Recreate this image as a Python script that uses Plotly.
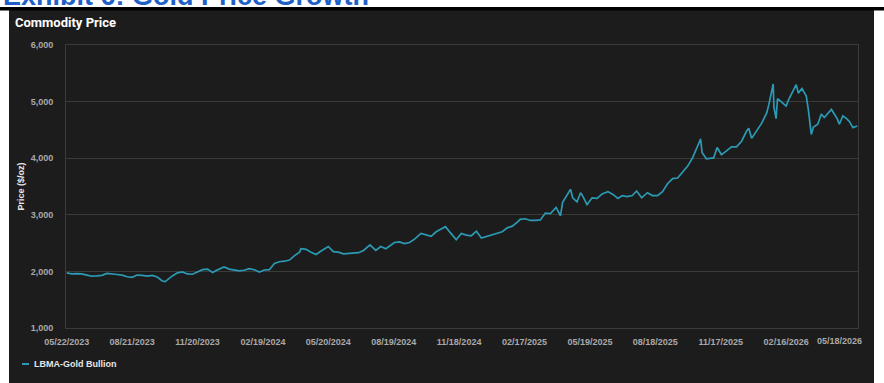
import plotly.graph_objects as go

# ---------------- data ----------------
SERIES_NAME = "LBMA-Gold Bullion"
CHART_TITLE = "Commodity Price"
EXHIBIT_TITLE = "Exhibit 6: Gold Price Growth"
Y_TITLE = "Price ($/oz)"

dates = [
    "2023-05-22", "2023-05-29", "2023-06-05", "2023-06-12", "2023-06-19", "2023-06-26",
    "2023-07-03", "2023-07-10", "2023-07-17", "2023-07-24", "2023-07-31", "2023-08-07",
    "2023-08-14", "2023-08-21", "2023-08-28", "2023-09-04", "2023-09-11", "2023-09-18",
    "2023-09-25", "2023-10-02", "2023-10-06", "2023-10-16", "2023-10-23", "2023-10-30",
    "2023-11-06", "2023-11-13", "2023-11-20", "2023-11-27", "2023-12-04", "2023-12-11",
    "2023-12-18", "2023-12-27", "2024-01-03", "2024-01-10", "2024-01-17", "2024-01-24",
    "2024-01-31", "2024-02-07", "2024-02-14", "2024-02-21", "2024-02-28", "2024-03-06",
    "2024-03-13", "2024-03-20", "2024-03-27", "2024-04-03", "2024-04-10", "2024-04-12",
    "2024-04-19", "2024-04-26", "2024-05-03", "2024-05-10", "2024-05-20", "2024-05-27",
    "2024-06-03", "2024-06-10", "2024-06-17", "2024-06-24", "2024-07-01", "2024-07-08",
    "2024-07-17", "2024-07-25", "2024-08-01", "2024-08-08", "2024-08-15", "2024-08-20",
    "2024-08-27", "2024-09-03", "2024-09-10", "2024-09-17", "2024-09-26", "2024-10-03",
    "2024-10-10", "2024-10-17", "2024-10-23", "2024-10-30", "2024-11-06", "2024-11-14",
    "2024-11-21", "2024-11-28", "2024-12-05", "2024-12-12", "2024-12-19", "2024-12-27",
    "2025-01-03", "2025-01-10", "2025-01-17", "2025-01-24", "2025-01-31", "2025-02-07",
    "2025-02-11", "2025-02-18", "2025-02-25", "2025-03-04", "2025-03-11", "2025-03-18",
    "2025-03-25", "2025-04-02", "2025-04-08", "2025-04-11", "2025-04-17", "2025-04-22",
    "2025-04-25", "2025-05-01", "2025-05-06", "2025-05-09", "2025-05-15", "2025-05-22",
    "2025-05-29", "2025-06-05", "2025-06-13", "2025-06-20", "2025-06-27", "2025-07-03",
    "2025-07-10", "2025-07-17", "2025-07-23", "2025-07-30", "2025-08-07", "2025-08-14",
    "2025-08-21", "2025-08-28", "2025-09-04", "2025-09-11", "2025-09-18", "2025-09-25",
    "2025-10-02", "2025-10-09", "2025-10-14", "2025-10-20", "2025-10-22", "2025-10-28",
    "2025-11-04", "2025-11-07", "2025-11-12", "2025-11-18", "2025-11-25", "2025-12-02",
    "2025-12-09", "2025-12-16", "2025-12-23", "2025-12-26", "2025-12-30", "2026-01-06",
    "2026-01-13", "2026-01-20", "2026-01-23", "2026-01-29", "2026-01-30", "2026-02-02",
    "2026-02-04", "2026-02-09", "2026-02-16", "2026-02-20", "2026-02-26", "2026-03-02",
    "2026-03-05", "2026-03-10", "2026-03-16", "2026-03-19", "2026-03-23", "2026-03-26",
    "2026-04-01", "2026-04-06", "2026-04-10", "2026-04-15", "2026-04-20", "2026-04-24",
    "2026-04-28", "2026-05-01", "2026-05-06", "2026-05-11", "2026-05-15", "2026-05-20",
    "2026-05-26",
]

prices = [
    1975, 1955, 1960, 1955, 1935, 1915,
    1920, 1930, 1965, 1960, 1945, 1935,
    1905, 1895, 1935, 1930, 1915, 1930,
    1900, 1830, 1820, 1920, 1975, 1990,
    1955, 1950, 1990, 2030, 2040, 1980,
    2030, 2080, 2040, 2030, 2010, 2020,
    2050, 2030, 1990, 2025, 2030, 2140,
    2170, 2180, 2200, 2280, 2340, 2400,
    2390, 2340, 2300, 2360, 2440, 2350,
    2340, 2310, 2320, 2330, 2330, 2370,
    2470, 2370, 2440, 2400, 2460, 2510,
    2520, 2490, 2510, 2570, 2670, 2650,
    2620, 2700, 2740, 2790, 2680, 2560,
    2670, 2640, 2630, 2710, 2590, 2620,
    2650, 2680, 2700, 2770, 2800, 2870,
    2920, 2930, 2900, 2900, 2910, 3030,
    3020, 3130, 2980, 3220, 3340, 3450,
    3300, 3230, 3390, 3330, 3180, 3300,
    3290, 3370, 3410, 3360, 3290, 3340,
    3320, 3340, 3420, 3300, 3390, 3340,
    3340, 3410, 3550, 3640, 3650, 3750,
    3860, 4010, 4150, 4340, 4100, 3990,
    4000, 4000, 4190, 4060, 4130, 4200,
    4200, 4300, 4480, 4530, 4350, 4480,
    4620, 4800, 4950, 5310, 4900, 4700,
    5050, 5000, 4920, 5050, 5200, 5300,
    5150, 5230, 5100, 4850, 4420, 4550,
    4600, 4780, 4720, 4800, 4860, 4780,
    4700, 4600, 4750, 4700, 4650, 4540,
    4570,
]

tick_dates = [
    "2023-05-22", "2023-08-21", "2023-11-20", "2024-02-19", "2024-05-20",
    "2024-08-19", "2024-11-18", "2025-02-17", "2025-05-19", "2025-08-18",
    "2025-11-17", "2026-02-16", "2026-05-18",
]
tick_labels = [
    "05/22/2023", "08/21/2023", "11/20/2023", "02/19/2024", "05/20/2024",
    "08/19/2024", "11/18/2024", "02/17/2025", "05/19/2025", "08/18/2025",
    "11/17/2025", "02/16/2026", "05/18/2026",
]
y_ticks = [1000, 2000, 3000, 4000, 5000, 6000]

# ---------------- styling ----------------
W, H = 884, 383
L, R, T, B = 66, 26, 45, 55
PW, PH = W - L - R, H - T - B

def px_x(px):
    return (px - L) / PW

def px_y(py):
    return (H - B - py) / PH

PANEL = "#1c1c1c"
GRID = "#3a3a3a"
LINE = "#2b9ab4"
TICK = "#a9a9a9"
FONT = "Liberation Sans, Arial, sans-serif"

fig = go.Figure()
fig.add_trace(go.Scatter(
    x=dates, y=prices, mode="lines", name=SERIES_NAME,
    line=dict(color=LINE, width=1.7), showlegend=False,
))

shapes = [
    # dark panel
    dict(type="rect", xref="paper", yref="paper", layer="below",
         x0=px_x(9), x1=px_x(874), y0=px_y(H + 5), y1=px_y(10),
         fillcolor=PANEL, line=dict(width=0)),
    # black bar
    dict(type="rect", xref="paper", yref="paper", layer="below",
         x0=px_x(-2), x1=px_x(W + 2), y0=px_y(10.5), y1=px_y(7),
         fillcolor="#000000", line=dict(width=0)),
    # legend swatch
    dict(type="line", xref="paper", yref="paper",
         x0=px_x(22), x1=px_x(29), y0=px_y(364), y1=px_y(364),
         line=dict(color=LINE, width=2)),
]

annotations = [
    dict(text=EXHIBIT_TITLE, xref="paper", yref="paper", x=px_x(1), y=px_y(13),
         xanchor="left", yanchor="bottom", showarrow=False,
         font=dict(family=FONT, size=27, color="#1f5fc8", weight="bold")),
    dict(text=CHART_TITLE, xref="paper", yref="paper", x=px_x(13), y=px_y(22),
         xanchor="left", yanchor="middle", showarrow=False,
         font=dict(family="Liberation Sans Narrow, Roboto, Arial, sans-serif",
                   size=13, color="#ffffff", weight="bold")),
    dict(text=SERIES_NAME, xref="paper", yref="paper", x=px_x(32), y=px_y(364),
         xanchor="left", yanchor="middle", showarrow=False,
         font=dict(family=FONT, size=9, color="#e6e6e6", weight="bold")),
    dict(text=Y_TITLE, xref="paper", yref="paper", x=px_x(20), y=0.5,
         xanchor="center", yanchor="middle", showarrow=False, textangle=-90,
         font=dict(family=FONT, size=9, color="#e6e6e6", weight="bold")),
    dict(text=tick_labels[-1], xref="paper", yref="paper", x=px_x(864), y=px_y(341.5),
         xanchor="right", yanchor="middle", showarrow=False,
         font=dict(family=FONT, size=9, color=TICK, weight="bold")),
]

fig.update_layout(
    width=W, height=H,
    margin=dict(l=L, r=R, t=T, b=B),
    paper_bgcolor="#ffffff",
    plot_bgcolor=PANEL,
    shapes=shapes,
    annotations=annotations,
    showlegend=False,
    font=dict(family=FONT),
)

fig.update_xaxes(
    type="date",
    range=["2023-05-21", "2026-05-27"],
    tickvals=tick_dates[:-1], ticktext=tick_labels[:-1],
    showgrid=False, zeroline=False,
    showline=True, mirror=True, linecolor=GRID, linewidth=1,
    ticks="", ticklabelstandoff=5,
    tickfont=dict(family=FONT, size=9, color=TICK, weight="bold"),
)
fig.update_yaxes(
    range=[1000, 6000],
    tickvals=y_ticks, tickformat=",",
    showgrid=True, gridcolor=GRID, gridwidth=1, zeroline=False,
    showline=True, mirror=True, linecolor=GRID, linewidth=1,
    ticks="", ticklabelstandoff=10,
    tickfont=dict(family=FONT, size=9, color=TICK, weight="bold"),
)

fig.write_html("out.html")
